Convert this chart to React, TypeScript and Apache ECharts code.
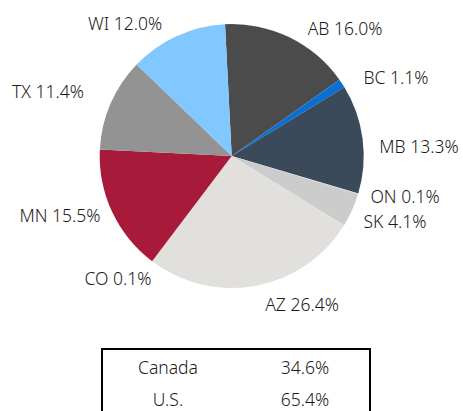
import React, { useEffect, useRef } from "react";
import * as echarts from "echarts";

const categories = ["AB", "BC", "MB", "ON", "SK", "AZ", "CO", "MN", "TX", "WI"];
const values = [16.0, 1.1, 13.3, 0.1, 4.1, 26.4, 0.1, 15.5, 11.4, 12.0];
const colors = ["#4b4b4b", "#0a6fd2", "#3a4a5a", "#dcdcdc", "#cccccc", "#e1e0dc", "#e1e0dc", "#a81a39", "#939393", "#80c8ff"];
const labelPos: [number, number][] = [
  [345, 28], [396, 77], [419, 146], [405, 196], [395, 221],
  [302, 304], [118, 278], [60, 215], [48, 91], [125, 23],
];
const tableLabels = ["Canada", "U.S."];
const tableValues = ["34.6%", "65.4%"];

const FONT = "'Noto Sans', sans-serif";
const SIZE = 17.5;

export default function App() {
  const ref = useRef<HTMLDivElement>(null);
  useEffect(() => {
    if (!ref.current) return;
    const chart = echarts.init(ref.current, undefined, { renderer: "svg" });
    const graphics: any[] = [
      {
        type: "rect",
        shape: { x: 102, y: 349, width: 268, height: 80 },
        style: { fill: "none", stroke: "#000", lineWidth: 2 },
      },
    ];
    tableLabels.forEach((t, i) => {
      graphics.push({
        type: "text",
        x: 168,
        y: 367 + i * 31.5,
        style: { text: t, fill: "#1a1a1a", font: `300 ${SIZE}px ${FONT}`, align: "center", verticalAlign: "middle" },
      });
      graphics.push({
        type: "text",
        x: 305,
        y: 367 + i * 31.5,
        style: { text: tableValues[i], fill: "#1a1a1a", font: `300 ${SIZE}px ${FONT}`, align: "center", verticalAlign: "middle" },
      });
    });
    chart.setOption({
      animation: false,
      backgroundColor: "#fff",
      graphic: graphics,
      series: [
        {
          type: "pie",
          center: [231.7, 156],
          radius: [0, 132],
          startAngle: 92.9,
          clockwise: true,
          avoidLabelOverlap: false,
          data: categories.map((c, i) => ({ name: c, value: values[i], itemStyle: { color: colors[i] } })),
          label: {
            show: true,
            position: "outside",
            formatter: (p: any) => `${p.name} ${Number(p.value).toFixed(1)}%`,
            color: "#1a1a1a",
            fontSize: SIZE,
            fontWeight: 300,
            fontFamily: FONT,
            lineHeight: 19,
          },
          labelLine: { show: false },
          labelLayout: (p: any) => ({
            x: labelPos[p.dataIndex][0],
            y: labelPos[p.dataIndex][1],
            align: "center",
            verticalAlign: "middle",
          }),
          emphasis: { disabled: true },
        },
      ],
    });
    return () => chart.dispose();
  }, []);
  return <div ref={ref} style={{ position: "fixed", left: 0, top: 0, width: 463, height: 411 }} />;
}
